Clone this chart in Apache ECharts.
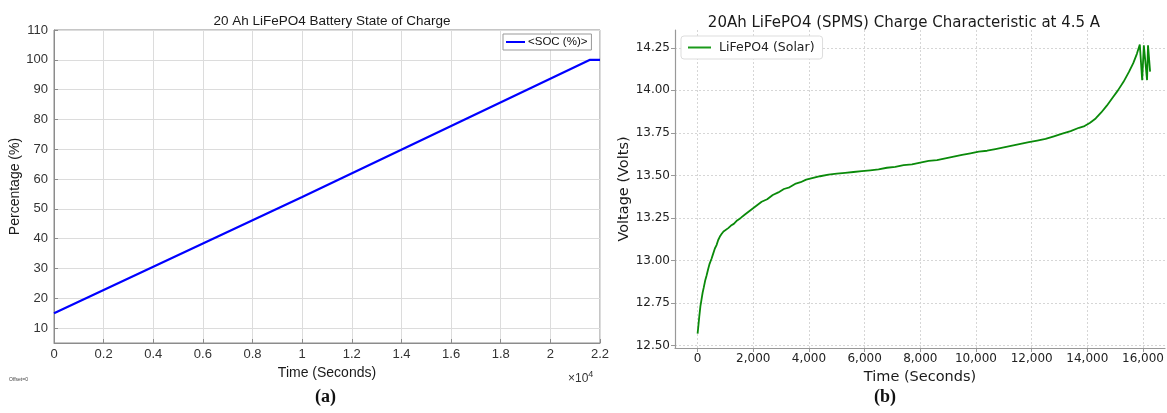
<!DOCTYPE html>
<html><head><meta charset="utf-8">
<script src="https://cdn.jsdelivr.net/npm/echarts@6/dist/echarts.min.js"></script>
<style>html,body{margin:0;padding:0;background:#fff}#c{width:1167px;height:413px}</style>
</head><body><div id="c"></div>
<script>
// Left chart (a): SOC
const socTime = [0, 10000, 10000, 21600, 22000];
const socValue = [15, 54, 54.3, 100, 100];
const socXTicks = [0, 2000, 4000, 6000, 8000, 10000, 12000, 14000, 16000, 18000, 20000, 22000];
const socYTicks = [10, 20, 30, 40, 50, 60, 70, 80, 90, 100, 110];

// Right chart (b): voltage
const vTime = [0, 30, 60, 100, 140, 180, 220, 270, 320, 380, 430, 500, 560, 620, 680, 740, 800, 860, 930, 1000, 1100, 1200, 1300, 1420, 1550, 1700, 1900, 2100, 2300, 2500, 2700, 2900, 3100, 3300, 3500, 3700, 3900, 4150, 4400, 4700, 5000, 5300, 5600, 5900, 6200, 6500, 6800, 7100, 7400, 7700, 8000, 8300, 8600, 8900, 9200, 9500, 9800, 10100, 10400, 10700, 11000, 11300, 11600, 11900, 12200, 12500, 12800, 13100, 13400, 13700, 13900, 14100, 14300, 14500, 14700, 14900, 15100, 15300, 15500, 15650, 15780, 15885, 15970, 16030, 16145, 16180, 16255];
const vValue = [12.57, 12.62, 12.67, 12.73, 12.77, 12.81, 12.84, 12.88, 12.91, 12.95, 12.98, 13.01, 13.04, 13.07, 13.09, 13.12, 13.14, 13.155, 13.17, 13.18, 13.19, 13.205, 13.215, 13.235, 13.25, 13.27, 13.295, 13.32, 13.345, 13.36, 13.385, 13.40, 13.42, 13.43, 13.45, 13.46, 13.475, 13.485, 13.495, 13.505, 13.51, 13.515, 13.52, 13.525, 13.53, 13.535, 13.545, 13.55, 13.56, 13.565, 13.575, 13.585, 13.59, 13.60, 13.61, 13.62, 13.63, 13.64, 13.645, 13.655, 13.665, 13.675, 13.685, 13.695, 13.705, 13.715, 13.73, 13.745, 13.76, 13.78, 13.79, 13.81, 13.835, 13.87, 13.91, 13.955, 14.00, 14.05, 14.11, 14.16, 14.215, 14.27, 14.06, 14.265, 14.06, 14.265, 14.11];
const vXTicks = [0, 2000, 4000, 6000, 8000, 10000, 12000, 14000, 16000];
const vYTicks = [12.5, 12.75, 13.0, 13.25, 13.5, 13.75, 14.0, 14.25];

const socData = socTime.map((t, i) => [t, socValue[i]]);
const vData = vTime.map((t, i) => [t, vValue[i]]);

const mFont = 'Liberation Sans, Arial, sans-serif';
const pFont = 'DejaVu Sans, sans-serif';

const chart = echarts.init(document.getElementById('c'), null, {renderer: 'canvas'});
chart.setOption({
  animation: false,
  backgroundColor: '#fff',
  title: [
    {text: '20 Ah LiFePO4 Battery State of Charge', left: 327, top: 9, textAlign: 'center',
     textStyle: {fontFamily: mFont, fontSize: 13.5, fontWeight: 'normal', color: '#1a1a1a'}},
    {text: '20Ah LiFePO4 (SPMS) Charge Characteristic at 4.5 A', left: 899, top: 11, textAlign: 'center',
     textStyle: {fontFamily: pFont, fontSize: 15, fontWeight: 'normal', color: '#1a1a1a'}}
  ],
  legend: [
    {data: ['<SOC (%)>'], left: 503, top: 34, orient: 'vertical', padding: [2, 4, 2, 3],
     borderColor: '#999', borderWidth: 1, borderRadius: 0, backgroundColor: '#fff',
     itemWidth: 19, itemHeight: 2, itemGap: 3, icon: 'rect',
     textStyle: {fontFamily: mFont, fontSize: 11.5, color: '#111', padding: [0, 0, 0, -2]}},
    {data: ['LiFePO4 (Solar)'], left: 681, top: 36, orient: 'vertical', padding: [5, 8, 5, 7],
     borderColor: '#ddd', borderWidth: 1, borderRadius: 3, backgroundColor: '#fff',
     itemWidth: 23, itemHeight: 2, icon: 'rect',
     textStyle: {fontFamily: pFont, fontSize: 12.5, color: '#222', padding: [0, 0, 0, 3]}}
  ],
  grid: [
    {left: 54, right: 567, top: 30, bottom: 70, show: true, borderColor: '#8c8c8c', borderWidth: 1},
    {left: 675, right: 0, top: 30, bottom: 65}
  ],
  xAxis: [
    {type: 'value', gridIndex: 0, min: 0, max: 22000,
     name: 'Time (Seconds)', nameLocation: 'middle', nameGap: 22,
     nameTextStyle: {fontFamily: mFont, fontSize: 14, color: '#1a1a1a'},
     axisLine: {show: true, onZero: false, lineStyle: {color: '#8c8c8c'}},
     axisTick: {show: true, inside: true, length: 4, customValues: socXTicks, lineStyle: {color: '#8c8c8c'}},
     axisLabel: {customValues: socXTicks, fontFamily: mFont, fontSize: 13, color: '#333', margin: 5,
       formatter: v => String(Math.round(v / 1000) / 10)},
     splitLine: {show: true, lineStyle: {color: '#dcdcdc', width: 1}}},
    {type: 'value', gridIndex: 1, min: -812, max: 16790,
     name: 'Time (Seconds)', nameLocation: 'middle', nameGap: 14,
     nameTextStyle: {fontFamily: pFont, fontSize: 14.5, color: '#1a1a1a'},
     axisLine: {show: true, onZero: false, lineStyle: {color: '#999', width: 1.2}},
     axisTick: {show: true, length: 4, customValues: vXTicks, lineStyle: {color: '#999'}},
     axisLabel: {customValues: vXTicks, fontFamily: pFont, fontSize: 12, color: '#222', margin: 5,
       formatter: v => v.toLocaleString('en-US')},
     splitLine: {show: true, lineStyle: {color: '#d6d6d6', type: [2, 2], width: 1}}}
  ],
  yAxis: [
    {type: 'value', gridIndex: 0, min: 5, max: 110,
     name: 'Percentage (%)', nameLocation: 'middle', nameGap: 27,
     nameTextStyle: {fontFamily: mFont, fontSize: 14, color: '#1a1a1a'},
     axisLine: {show: true, onZero: false, lineStyle: {color: '#8c8c8c'}},
     axisTick: {show: true, inside: true, length: 4, customValues: socYTicks, lineStyle: {color: '#8c8c8c'}},
     axisLabel: {customValues: socYTicks, fontFamily: mFont, fontSize: 13, color: '#333', margin: 6},
     splitLine: {show: true, lineStyle: {color: '#dcdcdc', width: 1}}},
    {type: 'value', gridIndex: 1, min: 12.485, max: 14.355,
     name: 'Voltage (Volts)', nameLocation: 'middle', nameGap: 33,
     nameTextStyle: {fontFamily: pFont, fontSize: 14.5, color: '#1a1a1a'},
     axisLine: {show: true, onZero: false, lineStyle: {color: '#999', width: 1.2}},
     axisTick: {show: true, length: 4, customValues: vYTicks, lineStyle: {color: '#999'}},
     axisLabel: {customValues: vYTicks, fontFamily: pFont, fontSize: 12, color: '#222', margin: 5,
       formatter: v => v.toFixed(2)},
     splitLine: {show: true, lineStyle: {color: '#d6d6d6', type: [2, 2], width: 1}}}
  ],
  graphic: [
    {type: 'text', left: 568, top: 370, style: {
      text: '×10{s|4}', font: '12px ' + mFont, fill: '#333',
      rich: {s: {fontSize: 9, verticalAlign: 'top', padding: [0, 0, 8, 0], fontFamily: mFont}}}},
    {type: 'text', left: 9, top: 377, style: {text: 'Offset=0', font: '5px ' + mFont, fill: '#444'}},
    {type: 'text', left: 315, top: 388, style: {text: '(a)', font: 'bold 18px Liberation Serif, serif', fill: '#111'}},
    {type: 'text', left: 874, top: 388, style: {text: '(b)', font: 'bold 18px Liberation Serif, serif', fill: '#111'}}
  ],
  series: [
    {name: '<SOC (%)>', type: 'line', xAxisIndex: 0, yAxisIndex: 0, data: socData,
     showSymbol: false, symbol: 'none', lineStyle: {color: '#0000ff', width: 2.2}, itemStyle: {color: '#0000ff'}},
    {name: 'LiFePO4 (Solar)', type: 'line', xAxisIndex: 1, yAxisIndex: 1, data: vData,
     showSymbol: false, symbol: 'none', lineStyle: {color: '#0a8a0a', width: 1.8}, itemStyle: {color: '#1a9a1a'}}
  ]
});
</script></body></html>
